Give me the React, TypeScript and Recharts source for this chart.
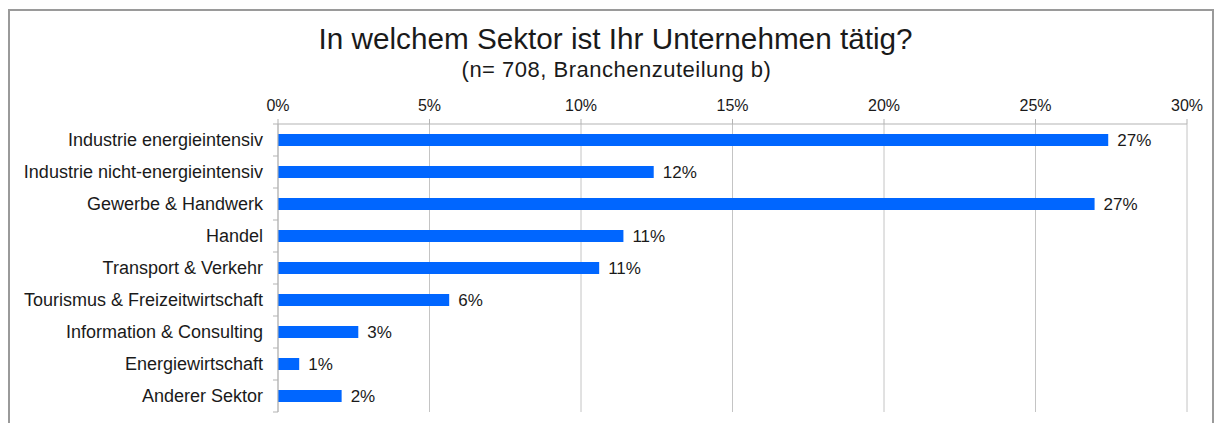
import { BarChart, Bar, XAxis, YAxis, CartesianGrid, LabelList } from 'recharts'

const sektoren = [
    'Industrie energieintensiv',
    'Industrie nicht-energieintensiv',
    'Gewerbe & Handwerk',
    'Handel',
    'Transport & Verkehr',
    'Tourismus & Freizeitwirtschaft',
    'Information & Consulting',
    'Energiewirtschaft',
    'Anderer Sektor'
]

// Anteile in Prozent
const anteile = [27.4, 12.4, 26.95, 11.4, 10.6, 5.65, 2.65, 0.7, 2.1]

const xTicks = [0, 5, 10, 15, 20, 25, 30]

const data = sektoren.map((sektor, i) => ({ sektor, anteil: anteile[i] }))

const FONT = '"Liberation Sans", Arial, sans-serif'
const TEXT = '#1a1a1a'

function SektorTick(props: any) {
    const { x, y, index, visibleTicksCount } = props
    // Striche an den Kategoriegrenzen, nicht in der Mitte
    const half = 16
    const lineX1 = x + 10
    const lineX2 = x + 15
    return (
        <g>
            <text
                x={x}
                y={y}
                textAnchor="end"
                dominantBaseline="central"
                fill={TEXT}
                fontSize={18}
                fontFamily={FONT}
            >
                {props.payload.value}
            </text>
            <line x1={lineX1} x2={lineX2} y1={y - half} y2={y - half} stroke="#b3b3b3" />
            {index === visibleTicksCount - 1 && (
                <line x1={lineX1} x2={lineX2} y1={y + half} y2={y + half} stroke="#b3b3b3" />
            )}
        </g>
    )
}

export default function App() {
    return (
        <div style={{ position: 'absolute', left: 0, top: 0, width: 1215, height: 423, background: '#fff', fontFamily: FONT, overflow: 'hidden' }}>
            <div style={{ position: 'absolute', left: 8, top: 9, width: 1202, height: 430, border: '2px solid #9a9a9a' }} />
            <div style={{ position: 'absolute', left: 8, width: 1215, top: 21, textAlign: 'center', fontSize: 29.7, color: TEXT, lineHeight: '36px', whiteSpace: 'nowrap' }}>
                In welchem Sektor ist Ihr Unternehmen tätig?
            </div>
            <div style={{ position: 'absolute', left: 9, width: 1215, top: 58, textAlign: 'center', fontSize: 22, letterSpacing: 0.5, color: TEXT, lineHeight: '24px', whiteSpace: 'nowrap' }}>
                (n= 708, Branchenzuteilung b)
            </div>
            <div style={{ position: 'absolute', left: 0, top: 0 }}>
                <BarChart
                    width={1215}
                    height={423}
                    data={data}
                    layout="vertical"
                    margin={{ top: 94, right: 28, left: 0, bottom: 11 }}
                    barCategoryGap={10}
                >
                    <CartesianGrid horizontal={false} stroke="#c4c4c4" />
                    <XAxis
                        type="number"
                        orientation="top"
                        domain={[0, 30]}
                        ticks={xTicks}
                        tickFormatter={(v) => `${v}%`}
                        height={30}
                        tickSize={5}
                        tickMargin={8}
                        axisLine={{ stroke: '#b3b3b3' }}
                        tickLine={{ stroke: '#b3b3b3' }}
                        tick={{ fill: TEXT, fontSize: 16, fontFamily: FONT }}
                        interval={0}
                    />
                    <YAxis
                        type="category"
                        dataKey="sektor"
                        width={278}
                        tickSize={5}
                        tickMargin={10}
                        axisLine={{ stroke: '#b3b3b3' }}
                        tickLine={false}
                        tick={<SektorTick />}
                        interval={0}
                    />
                    <Bar dataKey="anteil" fill="#0066ff" barSize={12} isAnimationActive={false}>
                        <LabelList
                            dataKey="anteil"
                            position="right"
                            offset={9}
                            formatter={(v: any) => `${Math.round(v)}%`}
                            style={{ fill: TEXT, fontSize: 17, fontFamily: FONT }}
                        />
                    </Bar>
                </BarChart>
            </div>
        </div>
    )
}
